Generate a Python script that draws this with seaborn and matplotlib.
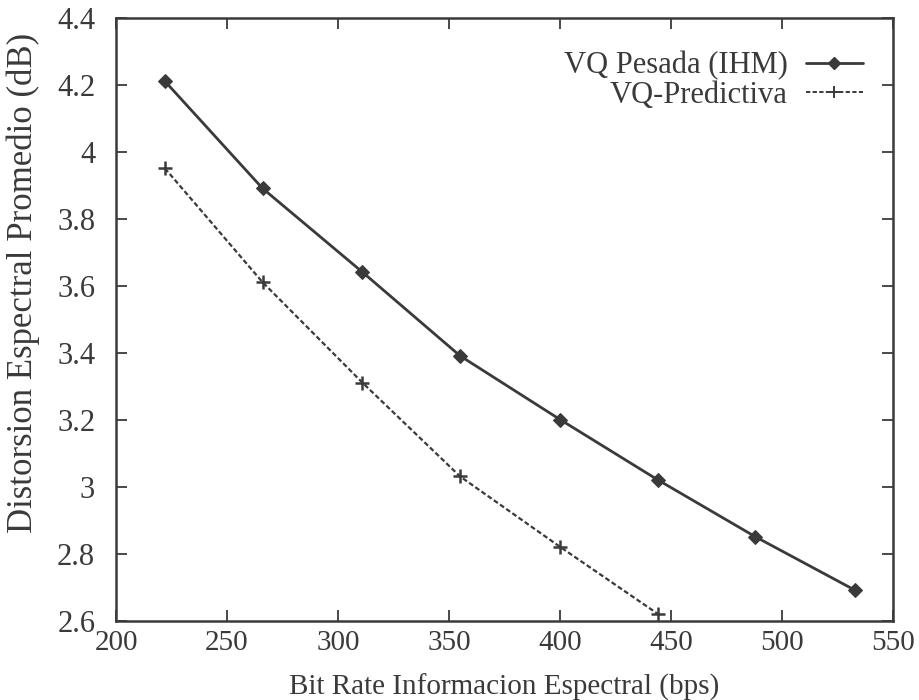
import matplotlib
matplotlib.use("Agg")
import matplotlib.pyplot as plt
from matplotlib.lines import Line2D
from matplotlib.ticker import FuncFormatter
import numpy as np
import pandas as pd
import seaborn as sns

# bit rate (bps) and mean spectral distortion (dB)
rate_pesada = [222, 266, 311, 355, 400, 444, 488, 533]
dist_pesada = [4.21, 3.89, 3.64, 3.39, 3.20, 3.02, 2.85, 2.69]
rate_pred = [222, 266, 311, 355, 400, 444]
dist_pred = [3.95, 3.61, 3.31, 3.03, 2.82, 2.62]

label_pesada = 'VQ Pesada (IHM)'
label_pred = 'VQ-Predictiva'

x_ticks = [200, 250, 300, 350, 400, 450, 500, 550]
y_ticks = [2.6, 2.8, 3.0, 3.2, 3.4, 3.6, 3.8, 4.0, 4.2, 4.4]

ink = '#3a3a3a'
dash = (0, (2.2, 1.2))

df_pesada = pd.DataFrame({'rate': rate_pesada, 'dist': dist_pesada})
df_pred = pd.DataFrame({'rate': rate_pred, 'dist': dist_pred})

sns.set_theme(style="ticks")
plt.rcParams['font.family'] = ['Liberation Serif', 'DejaVu Serif']
plt.rcParams['font.size'] = 18

fig = plt.figure(figsize=(9.19, 7.0), dpi=100)
ax = fig.add_axes([116 / 919, 1 - 620.5 / 700, (893 - 116) / 919, (620.5 - 17.5) / 700])

sns.lineplot(data=df_pesada, x='rate', y='dist', ax=ax, color=ink, lw=2.0,
             marker='D', markersize=7, markeredgecolor=ink, markerfacecolor=ink)
sns.lineplot(data=df_pred, x='rate', y='dist', ax=ax, color=ink, lw=1.6,
             linestyle=dash, marker='+', markersize=10, markeredgewidth=1.8,
             markeredgecolor=ink)

ax.set_xlim(200, 550)
ax.set_ylim(2.6, 4.4)
ax.set_xticks(x_ticks)
ax.set_yticks(y_ticks)
ax.yaxis.set_major_formatter(FuncFormatter(lambda v, p: f'{v:g}'))
ax.tick_params(direction='in', length=8, width=1.3, top=True, right=True,
               labelsize=22, colors=ink)
ax.tick_params(axis='x', pad=7, labelsize=21)
ax.tick_params(axis='y', pad=15)
for s in ax.spines.values():
    s.set_linewidth(1.8)
    s.set_color(ink)

ax.set_xlabel('Bit Rate Informacion Espectral (bps)', fontsize=21, color=ink)
ax.set_ylabel('Distorsion Espectral Promedio (dB)', fontsize=25, color=ink)
ax.xaxis.set_label_coords(0.5, -0.088)
ax.yaxis.set_label_coords(-0.098, 0.56)

handles = [
    Line2D([], [], color=ink, lw=2.0, marker='D', markersize=6, markerfacecolor=ink,
           markeredgecolor=ink),
    Line2D([], [], color=ink, lw=1.4, linestyle=dash, marker='+',
           markersize=8, markeredgewidth=1.4, markeredgecolor=ink),
]
leg = ax.legend(handles, [label_pesada, label_pred], loc='upper right',
                bbox_to_anchor=(0.961, 0.944), frameon=False, markerfirst=False,
                fontsize=22, handlelength=1.85, handletextpad=0.6, labelspacing=0.0,
                borderaxespad=0, borderpad=0)
for t in leg.get_texts():
    t.set_color(ink)

fig.savefig('out.png', dpi=100)
